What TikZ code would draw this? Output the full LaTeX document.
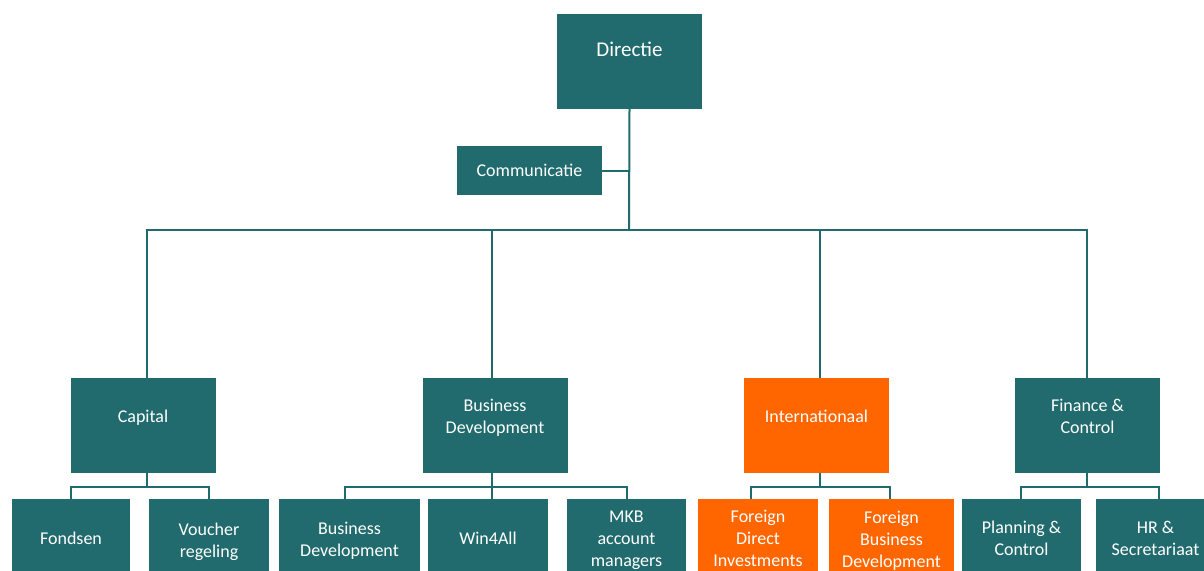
\documentclass[tikz,border=0pt]{standalone}
\usepackage{fontspec}
\setmainfont{Carlito}
\definecolor{orgteal}{RGB}{33,107,110}
\definecolor{orgorange}{RGB}{255,102,0}
\begin{document}
\begin{tikzpicture}[x=1pt,y=-1pt,
  box/.style={fill=orgteal, draw=none, text=white, align=center, inner sep=0pt,
    font=\fontsize{18}{22}\selectfont},
  orange/.style={fill=orgorange},
  head/.style={box, minimum width=145pt, minimum height=95pt},
  lbl/.style={text=white, align=center, inner sep=0pt, font=\fontsize{18}{22}\selectfont, yshift=9.5pt},
  ll/.style={text=white, align=center, inner sep=0pt, font=\fontsize{18}{22}\selectfont},
  leaf/.style={box, minimum height=78pt},
  conn/.style={draw=orgteal, line width=2pt}]
\useasboundingbox (0,0) rectangle (1204,570);
\clip (0,0) rectangle (1204,570);

% top
\node[head, label={[lbl, font=\fontsize{21}{25}\selectfont, yshift=3pt]center:Directie}] (dir) at (629.5,61.5) {};
\node[box, minimum width=145pt, minimum height=49pt] (com) at (529.5,170.5) {Communicatie};
\coordinate (bus) at (629,230);

% second level
\node[head, label={[lbl, yshift=-2pt]center:Capital}] (cap) at (143,425.5) {};
\node[head, label={[lbl, yshift=-2pt]center:Business\\Development}] (bd) at (495,425.5) {};
\node[head, orange, label={[lbl]center:Internationaal}] (intl) at (816.5,425.5) {};
\node[head, label={[lbl]center:Finance \&\\Control}] (fin) at (1087.5,425.5) {};

% leaves
\node[leaf, minimum width=118pt] (fond) at (71,538) {Fondsen};
\node[leaf, minimum width=120pt, label={[ll, yshift=-4pt]center:Voucher\\regeling}] (vouch) at (209,538) {};
\node[leaf, minimum width=141pt, label={[ll, yshift=-3pt]center:Business\\Development}] (bdc) at (349.5,538) {};
\node[leaf, minimum width=120pt] (win) at (488,538) {Win4All};
\node[leaf, minimum width=119pt, label={[ll, yshift=-2.5pt]center:MKB\\account\\managers}] (mkb) at (626.5,538) {};
\node[leaf, orange, minimum width=120pt] (fdi) at (758,538) {Foreign\\Direct\\Investments};
\node[leaf, orange, minimum width=125pt, label={[ll, yshift=-2.5pt]center:Foreign\\Business\\Development}] (fbd) at (891.5,538) {};
\node[leaf, minimum width=119pt] (plan) at (1021.5,538) {Planning \&\\Control};
\node[leaf, minimum width=119pt] (hr) at (1155.5,538) {HR \&\\Secretariaat};

% connectors top
\draw[conn] (dir.south) -- (bus);
\draw[conn] (com.east) -- (com.east -| bus);
\draw[conn] ([xshift=4pt]cap.north) |- ([xshift=-0.5pt]fin.north |- bus) -- ([xshift=-0.5pt]fin.north);
\draw[conn] ([xshift=-3pt]bd.north) -- ([xshift=-3pt]bd.north |- bus);
\draw[conn] ([xshift=3.5pt]intl.north) -- ([xshift=3.5pt]intl.north |- bus);

% group bars
\coordinate (capbar) at (147,487);
\coordinate (bdbar) at (492,487);
\coordinate (intlbar) at (820,487);
\coordinate (finbar) at (1087,487);

\draw[conn] ([xshift=4pt]cap.south) -- (capbar);
\draw[conn] (fond.north) |- (capbar) -| (vouch.north);

\draw[conn] ([xshift=-3pt]bd.south) -- ([xshift=4pt]win.north);
\draw[conn] ([xshift=-4.5pt]bdc.north) |- (bdbar) -| ([xshift=0.5pt]mkb.north);

\draw[conn] ([xshift=3.5pt]intl.south) -- (intlbar);
\draw[conn] ([xshift=-7pt]fdi.north) |- (intlbar) -| ([xshift=-1.5pt]fbd.north);

\draw[conn] ([xshift=-0.5pt]fin.south) -- (finbar);
\draw[conn] ([xshift=-0.5pt]plan.north) |- (finbar) -| ([xshift=3.5pt]hr.north);
\end{tikzpicture}
\end{document}
